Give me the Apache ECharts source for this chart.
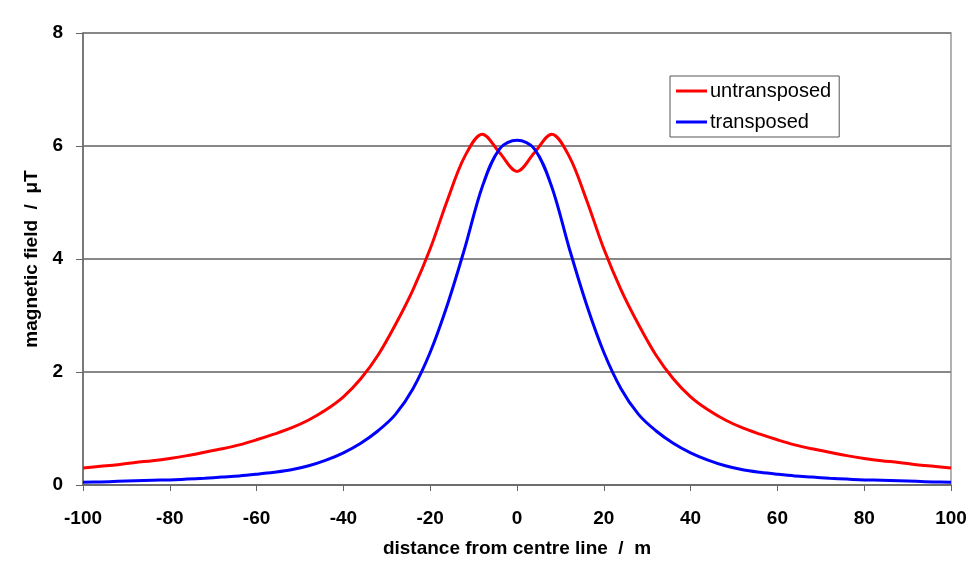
<!doctype html>
<html lang="en">
<head>
<meta charset="UTF-8">
<title>magnetic field</title>
<script src="https://cdn.jsdelivr.net/npm/echarts@6/dist/echarts.min.js"></script>
<style>
    * { margin: 0; padding: 0; }
    body { background: #fff; }
    #main { width: 970px; height: 562px; }
</style>
</head>
<body>
<div id="main"></div>
<script>
    // distance from centre line (m), every 4 m
    var distance = [-100, -96, -92, -88, -84, -80, -76, -72, -68, -64, -60, -56, -52, -48, -44, -40, -36, -32, -28, -24, -20, -16, -12, -8, -4, 0,
        4, 8, 12, 16, 20, 24, 28, 32, 36, 40, 44, 48, 52, 56, 60, 64, 68, 72, 76, 80, 84, 88, 92, 96, 100];
    // field, uT
    var untransposed = [0.30, 0.33, 0.36, 0.40, 0.43, 0.47, 0.52, 0.58, 0.64, 0.71, 0.80, 0.90, 1.01, 1.15, 1.33, 1.56, 1.88, 2.30, 2.84, 3.45, 4.18, 5.05, 5.82, 6.21, 5.88, 5.55,
        5.88, 6.21, 5.82, 5.05, 4.18, 3.45, 2.84, 2.30, 1.88, 1.56, 1.33, 1.15, 1.01, 0.90, 0.80, 0.71, 0.64, 0.58, 0.52, 0.47, 0.43, 0.40, 0.36, 0.33, 0.30];
    var transposed = [0.05, 0.055, 0.065, 0.075, 0.085, 0.09, 0.105, 0.12, 0.14, 0.16, 0.19, 0.225, 0.27, 0.34, 0.44, 0.57, 0.74, 0.96, 1.25, 1.70, 2.35, 3.20, 4.20, 5.28, 5.95, 6.10,
        5.95, 5.28, 4.20, 3.20, 2.35, 1.70, 1.25, 0.96, 0.74, 0.57, 0.44, 0.34, 0.27, 0.225, 0.19, 0.16, 0.14, 0.12, 0.105, 0.09, 0.085, 0.075, 0.065, 0.055, 0.05];

    function pairs(ys) {
        var out = [];
        for (var i = 0; i < distance.length; i++) out.push([distance[i], ys[i]]);
        return out;
    }

    var font = 'Arial, "Liberation Sans", sans-serif';
    var chart = echarts.init(document.getElementById('main'));
    chart.setOption({
        animation: false,
        grid: {
            left: 83, right: 19, top: 33, bottom: 77,
            outerBoundsMode: 'none',
            show: true, borderColor: '#999', borderWidth: 1.5
        },
        legend: {
            orient: 'vertical',
            left: 670, top: 76,
            padding: [5, 8, 5, 6],
            itemGap: 11,
            itemWidth: 31, itemHeight: 3,
            icon: 'rect',
            borderColor: '#555', borderWidth: 1,
            backgroundColor: '#fff',
            textStyle: { fontFamily: font, fontSize: 20, color: '#000', padding: [0, 0, 0, -2] },
            data: ['untransposed', 'transposed']
        },
        xAxis: {
            type: 'value',
            min: -100, max: 100, interval: 20,
            name: 'distance from centre line  /  m',
            nameLocation: 'middle', nameGap: 54,
            nameTextStyle: { fontFamily: font, fontSize: 19, fontWeight: 'bold', color: '#000' },
            axisLine: { lineStyle: { color: '#666', width: 1.5 } },
            axisTick: { length: 6, lineStyle: { color: '#666' } },
            axisLabel: { fontFamily: font, fontSize: 19, fontWeight: 'bold', color: '#000', margin: 24 },
            splitLine: { show: false }
        },
        yAxis: {
            type: 'value',
            min: 0, max: 8, interval: 2,
            name: 'magnetic field  /  \u03bcT',
            nameLocation: 'middle', nameGap: 42,
            nameTextStyle: { fontFamily: font, fontSize: 19, fontWeight: 'bold', color: '#000' },
            axisLine: { show: true, onZero: false, lineStyle: { color: '#666', width: 1.5 } },
            axisTick: { show: true, length: 7, lineStyle: { color: '#666' } },
            axisLabel: { fontFamily: font, fontSize: 19, fontWeight: 'bold', color: '#000', margin: 20 },
            splitLine: { lineStyle: { color: '#888', width: 2 } }
        },
        series: [
            {
                name: 'untransposed', type: 'line',
                data: pairs(untransposed),
                smooth: 0.35, showSymbol: false,
                color: '#ff0000',
                lineStyle: { width: 3, color: '#ff0000' }
            },
            {
                name: 'transposed', type: 'line',
                data: pairs(transposed),
                smooth: 0.35, showSymbol: false,
                color: '#0000ff',
                lineStyle: { width: 3, color: '#0000ff' }
            }
        ]
    });
</script>
</body>
</html>
